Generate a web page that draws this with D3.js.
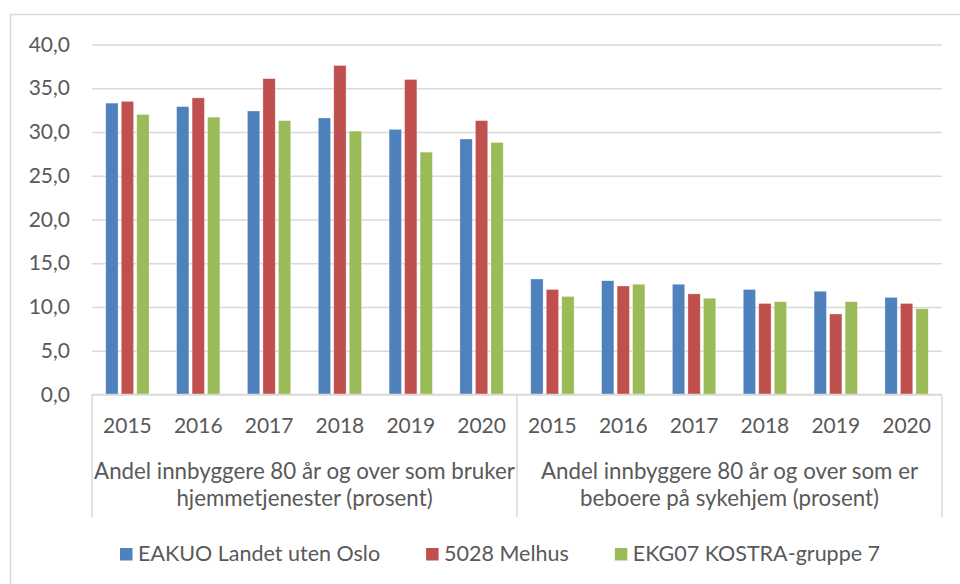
<!DOCTYPE html>
<html>
<head>
<meta charset="utf-8">
<script src="https://cdn.jsdelivr.net/npm/d3@7"></script>
<style>
  body { margin: 0; background: #fff; }
  svg text { font-family: Lato, "Liberation Sans", sans-serif; fill: #595959; }
</style>
</head>
<body>
<div id="chart"></div>
<script>
var years = ["2015", "2016", "2017", "2018", "2019", "2020"]
var groupLines = [
    ["Andel innbyggere 80 år og over som bruker", "hjemmetjenester (prosent)"],
    ["Andel innbyggere 80 år og over som er", "beboere på sykehjem (prosent)"]
]
var seriesNames = ["EAKUO Landet uten Oslo", "5028 Melhus", "EKG07 KOSTRA-gruppe 7"]
var seriesColors = ["#4f81bd", "#c0504d", "#9bbb59"]
var eakuo = [33.3, 32.9, 32.4, 31.6, 30.3, 29.2, 13.2, 13.0, 12.6, 12.0, 11.8, 11.1]
var melhus = [33.5, 33.9, 36.1, 37.6, 36.0, 31.3, 12.0, 12.4, 11.5, 10.4, 9.2, 10.4]
var ekg07 = [32.0, 31.7, 31.3, 30.1, 27.7, 28.8, 11.2, 12.6, 11.0, 10.6, 10.6, 9.8]
var yTicks = [0, 5, 10, 15, 20, 25, 30, 35, 40]

var W = 960, H = 584
var fontSize = '21px'
var plot = {left: 92, right: 942, top: 44.5, bottom: 394.5}

var svg = d3.select("#chart")
    .append("svg")
    .attr("width", W)
    .attr("height", H)

// outer chart frame (right and bottom fall outside the picture)
svg.append("rect")
    .attr("x", 10.5)
    .attr("y", 14.5)
    .attr("width", 1000)
    .attr("height", 700)
    .attr("fill", "none")
    .attr("stroke", "#d9d9d9")
    .attr("stroke-width", 1.5)

// one category per year inside each group
var cats = []
groupLines.forEach(function(g, gi) {
    years.forEach(function(yr) { cats.push(gi + "_" + yr) })
})
var series = [eakuo, melhus, ekg07]

var x = d3.scaleBand()
    .domain(cats)
    .range([plot.left, plot.right])
    .padding(0)
var xs = d3.scaleBand()
    .domain([0, 1, 2])
    .range([-21.65, 21.65])
    .paddingInner(0.206)
    .paddingOuter(0)
var y = d3.scaleLinear()
    .domain([0, 40])
    .range([plot.bottom, plot.top])

var loc = d3.formatLocale({decimal: ",", thousands: " ", grouping: [3], currency: ["", " kr"]})
var fmt = loc.format(".1f")

// gridlines + y labels
var yAxis = svg.append("g")
    .attr("transform", "translate(" + plot.left + ",0)")
    .call(d3.axisLeft(y).tickValues(yTicks).tickFormat(fmt)
        .tickSize(-(plot.right - plot.left)).tickPadding(22))
yAxis.select(".domain").remove()
yAxis.selectAll(".tick line")
    .attr("stroke", "#d9d9d9")
    .attr("stroke-width", 1.5)
yAxis.selectAll(".tick text")
    .style("font-size", fontSize)
    .attr("fill", "#595959")

// bars
series.forEach(function(vals, si) {
    svg.append("g")
        .selectAll("rect")
        .data(vals)
        .enter()
        .append("rect")
        .attr("x", function(d, i) { return x(cats[i]) + x.bandwidth() / 2 + xs(si) })
        .attr("y", function(d) { return y(d) })
        .attr("width", xs.bandwidth())
        .attr("height", function(d) { return y(0) - y(d) })
        .attr("fill", seriesColors[si])
        .attr("stroke", "#fff")
        .attr("stroke-opacity", 0.5)
        .attr("stroke-width", 0.6)
})

// category axis: baseline + box dividers
svg.append("line")
    .attr("x1", plot.left).attr("x2", plot.right)
    .attr("y1", y(0)).attr("y2", y(0))
    .attr("stroke", "#d9d9d9")
    .attr("stroke-width", 1.5)
var dividers = [cats[0], cats[6], null]
dividers.forEach(function(c) {
    var xx = c ? x(c) : plot.right
    svg.append("line")
        .attr("x1", xx).attr("x2", xx)
        .attr("y1", y(0)).attr("y2", 517)
        .attr("stroke", "#d9d9d9")
        .attr("stroke-width", 1.5)
})

svg.append("g")
    .selectAll("text")
    .data(cats)
    .enter()
    .append("text")
    .attr("x", function(d) { return x(d) + x.bandwidth() / 2 })
    .attr("y", 433)
    .attr("text-anchor", "middle")
    .style("font-size", fontSize)
    .text(function(d) { return d.split("_")[1] })

groupLines.forEach(function(lines, gi) {
    var first = x(gi + "_" + years[0])
    var last = x(gi + "_" + years[years.length - 1]) + x.bandwidth()
    var t = svg.append("text")
        .attr("text-anchor", "middle")
        .style("font-size", "22.3px")
    lines.forEach(function(l, li) {
        t.append("tspan")
            .attr("x", (first + last) / 2)
            .attr("y", 479 + li * 27)
            .text(l)
    })
})

// legend
var lx = 120
seriesNames.forEach(function(name, si) {
    svg.append("rect")
        .attr("x", lx)
        .attr("y", 548)
        .attr("width", 12.5)
        .attr("height", 12.5)
        .attr("fill", seriesColors[si])
    var t = svg.append("text")
        .attr("x", lx + 18)
        .attr("y", 561)
        .style("font-size", "21.5px")
        .text(name)
    lx = lx + 18 + t.node().getComputedTextLength() + 46
})
</script>
</body>
</html>
